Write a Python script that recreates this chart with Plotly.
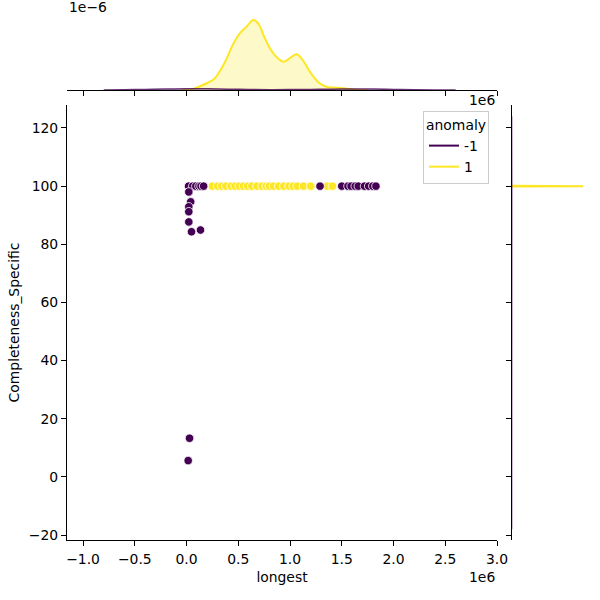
import plotly.graph_objects as go

# ---------------- data ----------------
# anomaly = -1
anom_longest = [20000, 60000, 90000, 120000, 140000, 165000, 1290000, 1500000,
                1560000, 1590000, 1630000, 1660000, 1720000, 1760000, 1800000, 1830000,
                22000, 40000, 22000, 22000, 22000, 48000, 135000, 29000, 16000]
anom_completeness = [100, 100, 100, 100, 100, 100, 100, 100,
                     100, 100, 100, 100, 100, 100, 100, 100,
                     98.0, 94.6, 92.9, 91.2, 87.7, 84.3, 84.9, 13.3, 5.6]
# anomaly = 1
norm_longest = [250000, 300000, 340000, 380000, 430000, 470000, 510000, 550000,
                590000, 630000, 680000, 730000, 770000, 800000, 840000, 890000,
                940000, 990000, 1030000, 1070000, 1130000, 1200000, 1360000, 1410000]
norm_completeness = [100, 100, 100, 100, 100, 100, 100, 100,
                     100, 100, 100, 100, 100, 100, 100, 100,
                     100, 100, 100, 100, 100, 100, 100, 100]

# marginal density (top) for "longest", density in 1e-6 units
kde_norm_x = [-50000, 40000, 135000, 200000, 264000, 360000, 457000, 520000, 586000, 644000,
              699000, 747000, 812000, 876000, 940000, 1005000, 1063000, 1118000, 1198000,
              1279000, 1359000, 1456000, 1553000, 1650000, 1750000]
kde_norm_d = [0.0, 0.006, 0.08, 0.14, 0.214, 0.514, 0.946, 1.146, 1.28, 1.40,
              1.314, 1.08, 0.814, 0.646, 0.566, 0.646, 0.714, 0.614, 0.346,
              0.146, 0.06, 0.046, 0.026, 0.006, 0.0]
kde_anom_x = [-800000, -600000, -400000, -200000, 0, 200000, 400000, 600000, 800000,
              1000000, 1200000, 1400000, 1600000, 1800000, 2000000, 2200000, 2400000, 2600000]
kde_anom_d = [0.0, 0.004, 0.012, 0.02, 0.026, 0.024, 0.016, 0.01, 0.007,
              0.008, 0.012, 0.016, 0.02, 0.018, 0.012, 0.006, 0.002, 0.0]

# marginal density (right) for "Completeness_Specific" (relative units)
kde_norm_cy = [99.9, 100.0, 100.1]
kde_norm_cd = [0.0, 1.0, 0.0]
kde_anom_cy = [-18, 0, 10, 50, 85, 100, 124]
kde_anom_cd = [0.0, 0.002, 0.003, 0.002, 0.003, 0.004, 0.0]

x_tickvals = [-1000000, -500000, 0, 500000, 1000000, 1500000, 2000000, 2500000, 3000000]
x_ticktext = ["\u22121.0", "\u22120.5", "0.0", "0.5", "1.0", "1.5", "2.0", "2.5", "3.0"]
y_tickvals = [-20, 0, 20, 40, 60, 80, 100, 120]
y_ticktext = ["\u221220", "0", "20", "40", "60", "80", "100", "120"]

PURPLE = "#440154"
YELLOW = "#fde725"
FONT = "DejaVu Sans"
FS = 13.9

fig = go.Figure()

# top marginal
fig.add_trace(go.Scatter(x=kde_norm_x, y=kde_norm_d, mode="lines", line=dict(color=YELLOW, width=2, shape="spline"),
                         fill="tozeroy", fillcolor="rgba(253,231,37,0.25)", showlegend=False,
                         xaxis="x2", yaxis="y2", hoverinfo="skip"))
fig.add_trace(go.Scatter(x=kde_anom_x, y=kde_anom_d, mode="lines", line=dict(color="rgba(68,1,84,0.8)", width=1.5, shape="spline"),
                         fill="tozeroy", fillcolor="rgba(68,1,84,0.2)", showlegend=False,
                         xaxis="x2", yaxis="y2", hoverinfo="skip"))
# right marginal
fig.add_trace(go.Scatter(x=kde_norm_cd, y=kde_norm_cy, mode="lines", line=dict(color=YELLOW, width=2),
                         fill="tozerox", fillcolor="rgba(253,231,37,0.25)", showlegend=False,
                         xaxis="x3", yaxis="y3", hoverinfo="skip"))
fig.add_trace(go.Scatter(x=kde_anom_cd, y=kde_anom_cy, mode="lines", line=dict(color="rgba(68,1,84,0.35)", width=1.5),
                         showlegend=False, xaxis="x3", yaxis="y3", hoverinfo="skip"))

# joint scatter
fig.add_trace(go.Scatter(x=norm_longest, y=norm_completeness, mode="markers",
                         marker=dict(color=YELLOW, size=8.5, line=dict(color="white", width=0.8)),
                         showlegend=False))
fig.add_trace(go.Scatter(x=anom_longest, y=anom_completeness, mode="markers",
                         marker=dict(color=PURPLE, size=8.5, line=dict(color="white", width=0.8)),
                         showlegend=False))

# legend entries (lines, as in the hue legend)
fig.add_trace(go.Scatter(x=[None], y=[None], mode="lines", line=dict(color=PURPLE, width=2), name="-1"))
fig.add_trace(go.Scatter(x=[None], y=[None], mode="lines", line=dict(color=YELLOW, width=2), name="1"))

axis_common = dict(showgrid=False, zeroline=False, linecolor="black", linewidth=1.1,
                   ticks="outside", ticklen=5, tickwidth=1.1, tickcolor="black",
                   tickfont=dict(family=FONT, size=FS, color="black"))

fig.update_layout(
    width=600, height=600,
    margin=dict(l=0, r=0, t=0, b=0),
    paper_bgcolor="white", plot_bgcolor="white",
    font=dict(family=FONT, size=FS, color="black"),
    xaxis=dict(domain=[67/600, 497/600], range=[-1155000, 3000000], showline=True,
               tickvals=x_tickvals, ticktext=x_ticktext, automargin=False, ticklabelstandoff=1,
               title=dict(text="longest", standoff=6, font=dict(family=FONT, size=FS)),
               anchor="y", **axis_common),
    yaxis=dict(domain=[1-540/600, 1-105/600], range=[-21.7, 127.9], showline=True,
               tickvals=y_tickvals, ticktext=y_ticktext, automargin=False,
               title=dict(text="Completeness_Specific", standoff=5, font=dict(family=FONT, size=FS)),
               anchor="x", **axis_common),
    xaxis2=dict(domain=[67/600, 497/600], matches="x", anchor="y2", showline=True,
                tickvals=x_tickvals, showticklabels=False, automargin=False, **axis_common),
    yaxis2=dict(domain=[1-90/600, 1-15/600], range=[0, 1.5], anchor="x2", showline=False,
                showticklabels=False, ticks="", showgrid=False, zeroline=False, automargin=False),
    xaxis3=dict(domain=[512/600, 587/600], range=[0, 1.0526], anchor="y3", showline=False,
                showticklabels=False, ticks="", showgrid=False, zeroline=False, automargin=False),
    yaxis3=dict(domain=[1-540/600, 1-105/600], matches="y", anchor="x3", showline=True,
                tickvals=y_tickvals, showticklabels=False, automargin=False, **axis_common),
    legend=dict(x=489/600, y=1-111/600, xanchor="right", yanchor="top",
                bgcolor="rgba(255,255,255,0.8)", bordercolor="#cccccc", borderwidth=1,
                font=dict(family=FONT, size=FS), itemwidth=30, tracegroupgap=0,
                title=dict(text="anomaly", side="top center", font=dict(family=FONT, size=FS))),
    annotations=[
        dict(text="1e6", x=497/600, y=1-577/600, xref="paper", yref="paper", xanchor="right", yanchor="middle",
             showarrow=False, font=dict(family=FONT, size=FS)),
        dict(text="1e6", x=497/600, y=1-100/600, xref="paper", yref="paper", xanchor="right", yanchor="middle",
             showarrow=False, font=dict(family=FONT, size=FS)),
        dict(text="1e\u22126", x=67/600, y=1-7/600, xref="paper", yref="paper", xanchor="left", yanchor="middle",
             showarrow=False, font=dict(family=FONT, size=FS)),
    ],
)

fig.write_html("out.html")
